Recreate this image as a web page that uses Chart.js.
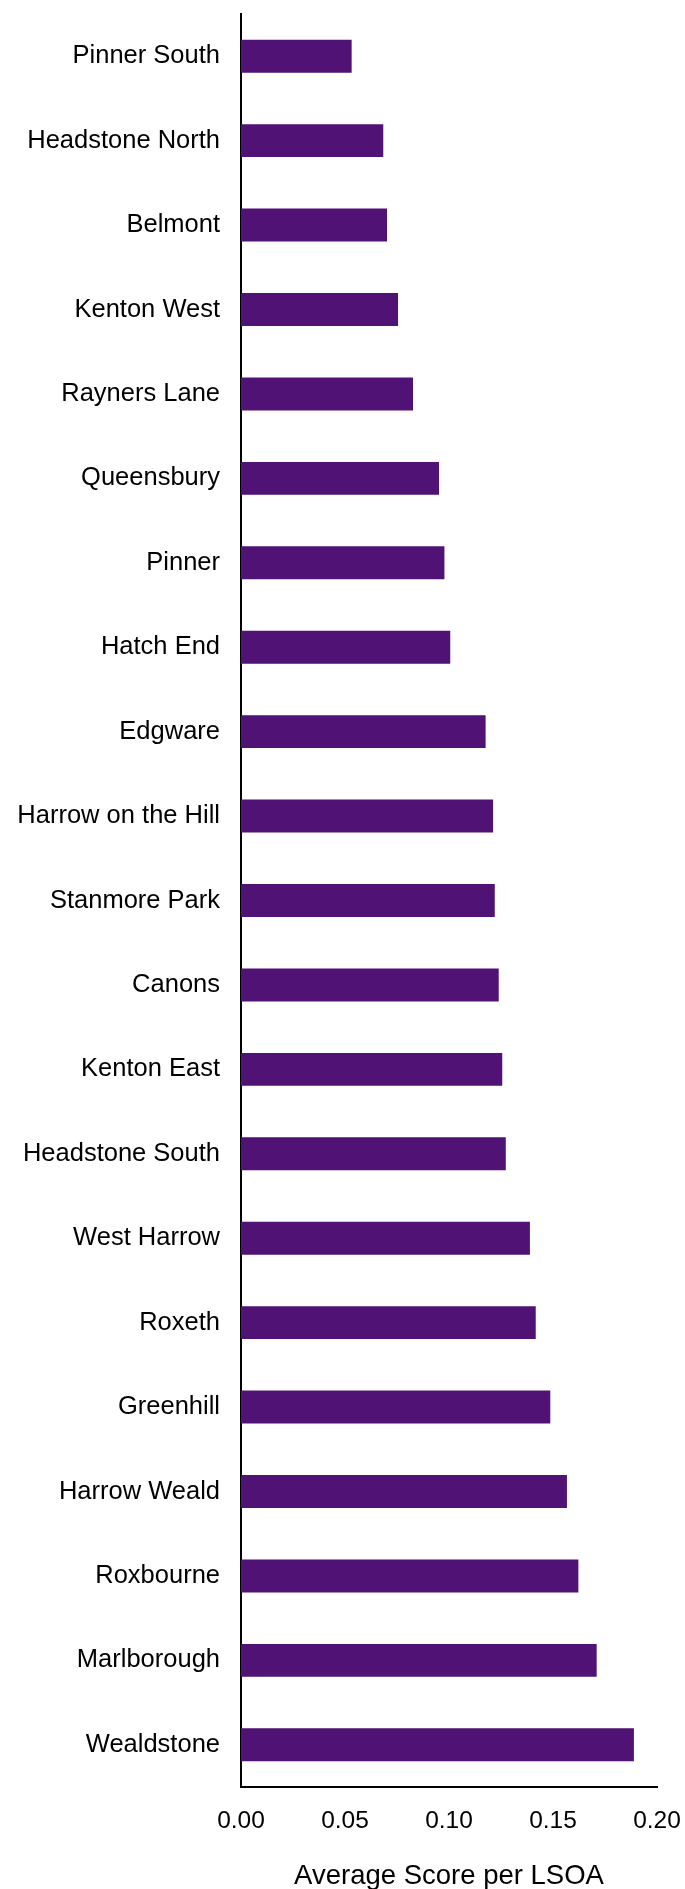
<!DOCTYPE html>
<html>
<head>
<meta charset="utf-8">
<script src="https://cdn.jsdelivr.net/npm/chart.js@4.4.1/dist/chart.umd.min.js"></script>
<style>
    body { margin: 0; background: #fff; }
    #grafico_wards { display: block; }
</style>
</head>
<body>
<canvas id="grafico_wards" width="685" height="1889"></canvas>
<script>
/* Average score per LSOA, by ward */
const labels_wards = [
    'Pinner South',
    'Headstone North',
    'Belmont',
    'Kenton West',
    'Rayners Lane',
    'Queensbury',
    'Pinner',
    'Hatch End',
    'Edgware',
    'Harrow on the Hill',
    'Stanmore Park',
    'Canons',
    'Kenton East',
    'Headstone South',
    'West Harrow',
    'Roxeth',
    'Greenhill',
    'Harrow Weald',
    'Roxbourne',
    'Marlborough',
    'Wealdstone'
];

const scores_wards = [
    0.0532, 0.0684, 0.0702, 0.0755, 0.0827, 0.0952, 0.0978,
    0.1006, 0.1176, 0.1212, 0.1220, 0.1239, 0.1256, 0.1273,
    0.1389, 0.1417, 0.1487, 0.1567, 0.1622, 0.1710, 0.1889
];

const ticks_x = [0, 0.05, 0.10, 0.15, 0.20];

const titulo_x = 'Average Score per LSOA';

const data_wards = {
    labels: labels_wards,
    datasets: [{
        label: titulo_x,
        data: scores_wards,
        backgroundColor: '#501274',
        borderWidth: 0,
        barPercentage: 0.39,
        categoryPercentage: 1.0
    }]
};

const config_wards = {
    type: 'bar',
    data: data_wards,
    options: {
        indexAxis: 'y',
        responsive: false,
        animation: false,
        layout: {
            padding: { top: 14, right: 28, bottom: 0, left: 0 }
        },
        plugins: {
            legend: { display: false },
            tooltip: { enabled: false }
        },
        scales: {
            y: {
                grid: { display: false, drawTicks: false },
                border: { display: true, color: '#000', width: 2 },
                ticks: {
                    color: '#000',
                    padding: 21,
                    font: { family: 'Liberation Sans', size: 25.5 }
                },
                afterFit: function (scale) {
                    // eixo fixo em x = 241, sem folga extra em cima/embaixo
                    scale.width = 241;
                    scale.paddingTop = 0;
                    scale.paddingBottom = 0;
                }
            },
            x: {
                min: 0,
                max: 0.2,
                grid: { display: false, drawTicks: false },
                border: { display: true, color: '#000', width: 2 },
                afterBuildTicks: function (scale) {
                    scale.ticks = ticks_x.map(v => ({ value: v }));
                },
                ticks: {
                    color: '#000',
                    padding: 20,
                    font: { family: 'Liberation Sans', size: 24.5 },
                    callback: function (value) {
                        return Number(value).toFixed(2);
                    }
                },
                title: {
                    display: true,
                    text: titulo_x,
                    color: '#000',
                    padding: { top: 28, bottom: 0 },
                    font: { family: 'Liberation Sans', size: 27.5, lineHeight: 0.9 }
                },
                afterFit: function (scale) {
                    scale.height = 102;
                    scale.paddingLeft = 0;
                    scale.paddingRight = 0;
                }
            }
        }
    }
};

const grafico_wards = new Chart(
    document.getElementById('grafico_wards'),
    config_wards
);
</script>
</body>
</html>
